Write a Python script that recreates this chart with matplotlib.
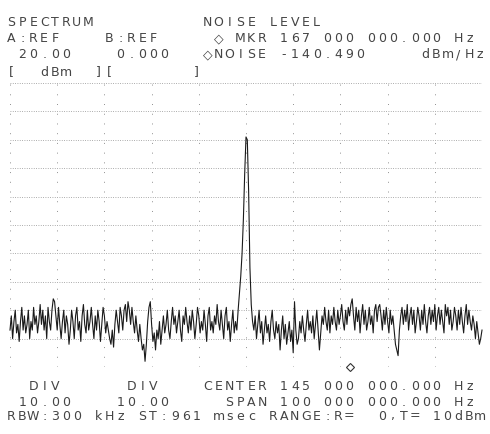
import numpy as np
import matplotlib
matplotlib.use("Agg")
import matplotlib.pyplot as plt

# trace readings (dBm), one per sweep point across 95 .. 195 MHz
level_dbm = [
    -67, -62, -70, -64, -60, -68, -65, -71, -64, -59, -67, -62, -68, -65, -60, -70, -64, -67, -59, -65,
    -62, -68, -64, -58, -65, -60, -67, -62, -70, -59, -64, -67, -60, -56, -57, -62, -67, -59, -65, -70,
    -64, -60, -68, -62, -65, -72, -67, -60, -64, -70, -62, -59, -67, -64, -71, -62, -58, -65, -68, -60,
    -67, -64, -59, -65, -70, -62, -67, -60, -64, -71, -65, -59, -62, -68, -64, -67, -70, -72, -67, -73,
    -65, -60, -64, -68, -59, -62, -67, -60, -58, -64, -57, -60, -65, -59, -64, -68, -62, -67, -71, -65,
    -70, -74, -72, -78, -72, -64, -59, -57, -65, -71, -68, -74, -67, -70, -64, -72, -67, -62, -68, -65,
    -60, -67, -70, -64, -59, -65, -62, -68, -64, -60, -67, -71, -62, -65, -59, -64, -68, -62, -67, -60,
    -64, -70, -65, -59, -62, -68, -64, -67, -60, -65, -71, -62, -59, -67, -64, -68, -62, -65, -58, -64,
    -67, -60, -65, -70, -62, -59, -67, -64, -71, -65, -60, -68, -64, -67, -60, -54, -48, -40, -28, -12,
    1, 0, -18, -45, -58, -64, -67, -62, -70, -65, -60, -68, -64, -72, -67, -62, -68, -65, -71, -64,
    -60, -67, -70, -64, -68, -65, -74, -67, -62, -70, -65, -72, -68, -64, -71, -67, -75, -57, -67, -72,
    -70, -64, -68, -62, -67, -71, -65, -60, -67, -64, -68, -62, -70, -65, -60, -67, -74, -68, -62, -65,
    -59, -64, -67, -60, -68, -62, -65, -59, -64, -67, -60, -65, -62, -58, -64, -67, -60, -65, -59, -62,
    -58, -56, -62, -67, -59, -64, -60, -68, -62, -58, -65, -60, -67, -64, -59, -65, -62, -68, -60, -58,
    -64, -59, -58, -62, -67, -60, -65, -59, -64, -68, -60, -65, -62, -67, -72, -74, -76, -67, -62, -59,
    -65, -60, -64, -58, -67, -62, -59, -65, -60, -68, -64, -59, -62, -67, -60, -65, -58, -64, -68, -62,
    -59, -65, -60, -64, -58, -67, -62, -59, -65, -60, -64, -68, -58, -62, -59, -65, -60, -67, -64, -59,
    -62, -67, -60, -65, -59, -64, -68, -62, -58, -65, -60, -64, -67, -62, -65, -70, -64, -68, -72, -70,
    -67,
]

start_mhz = 95
stop_mhz = 195
ref_level = 20
db_per_div = 10
marker_mhz = 167

header_rows = [
    "SPECTRUM          NOISE LEVEL",
    "A:REF    B:REF     \u25c7 MKR 167 000 000.000 Hz",
    " 20.00    0.000   \u25c7NOISE -140.490     dBm/Hz",
    "[  dBm  ][       ]",
]
footer_rows = [
    "  DIV      DIV    CENTER 145 000 000.000 Hz",
    " 10.00    10.00     SPAN 100 000 000.000 Hz",
    "RBW:300 kHz ST:961 msec RANGE:R=  0,T= 10dBm",
]

freq_mhz = np.linspace(start_mhz, stop_mhz, len(level_dbm))

W, H = 490, 434
fig = plt.figure(figsize=(W / 100, H / 100), dpi=100)
fig.patch.set_facecolor("white")

ax = fig.add_axes([10 / W, (H - 367) / H, 472 / W, 284 / H])
ax.set_xlim(start_mhz, stop_mhz)
ax.set_ylim(ref_level - 10 * db_per_div, ref_level)
ax.axis("off")

# dotted graticule
for yv in np.arange(ref_level - 10 * db_per_div, ref_level + 1, db_per_div):
    ax.axhline(yv, color="#909090", lw=0.6, ls=(0, (1, 1.8)), zorder=1)
for xv in np.linspace(start_mhz, stop_mhz, 11):
    ax.axvline(xv, color="#909090", lw=0.7, ls=(0, (1, 9)), zorder=1)

ax.plot(freq_mhz, level_dbm, color="#1a1a1a", lw=0.8, zorder=3, clip_on=False)
ax.plot([marker_mhz], [ref_level - 10 * db_per_div], marker="D", ms=4,
        mfc="white", mec="#333333", mew=0.8, zorder=4, clip_on=False)


def put_row(text, y_px, x0=6, pitch=10.9):
    # fixed character grid, like the analyzer's printer output
    for i, ch in enumerate(text):
        if ch == " ":
            continue
        fig.text((x0 + i * pitch + pitch / 2) / W, 1 - y_px / H, ch,
                 ha="center", va="center", fontsize=9, color="#444444",
                 family=["DejaVu Sans", "DejaVu Sans Mono"])


for row, y in zip(header_rows, [22, 39, 55, 72]):
    put_row(row, y)
for row, y in zip(footer_rows, [386, 402, 416]):
    put_row(row, y)

fig.savefig("out.png", dpi=100, facecolor="white")
